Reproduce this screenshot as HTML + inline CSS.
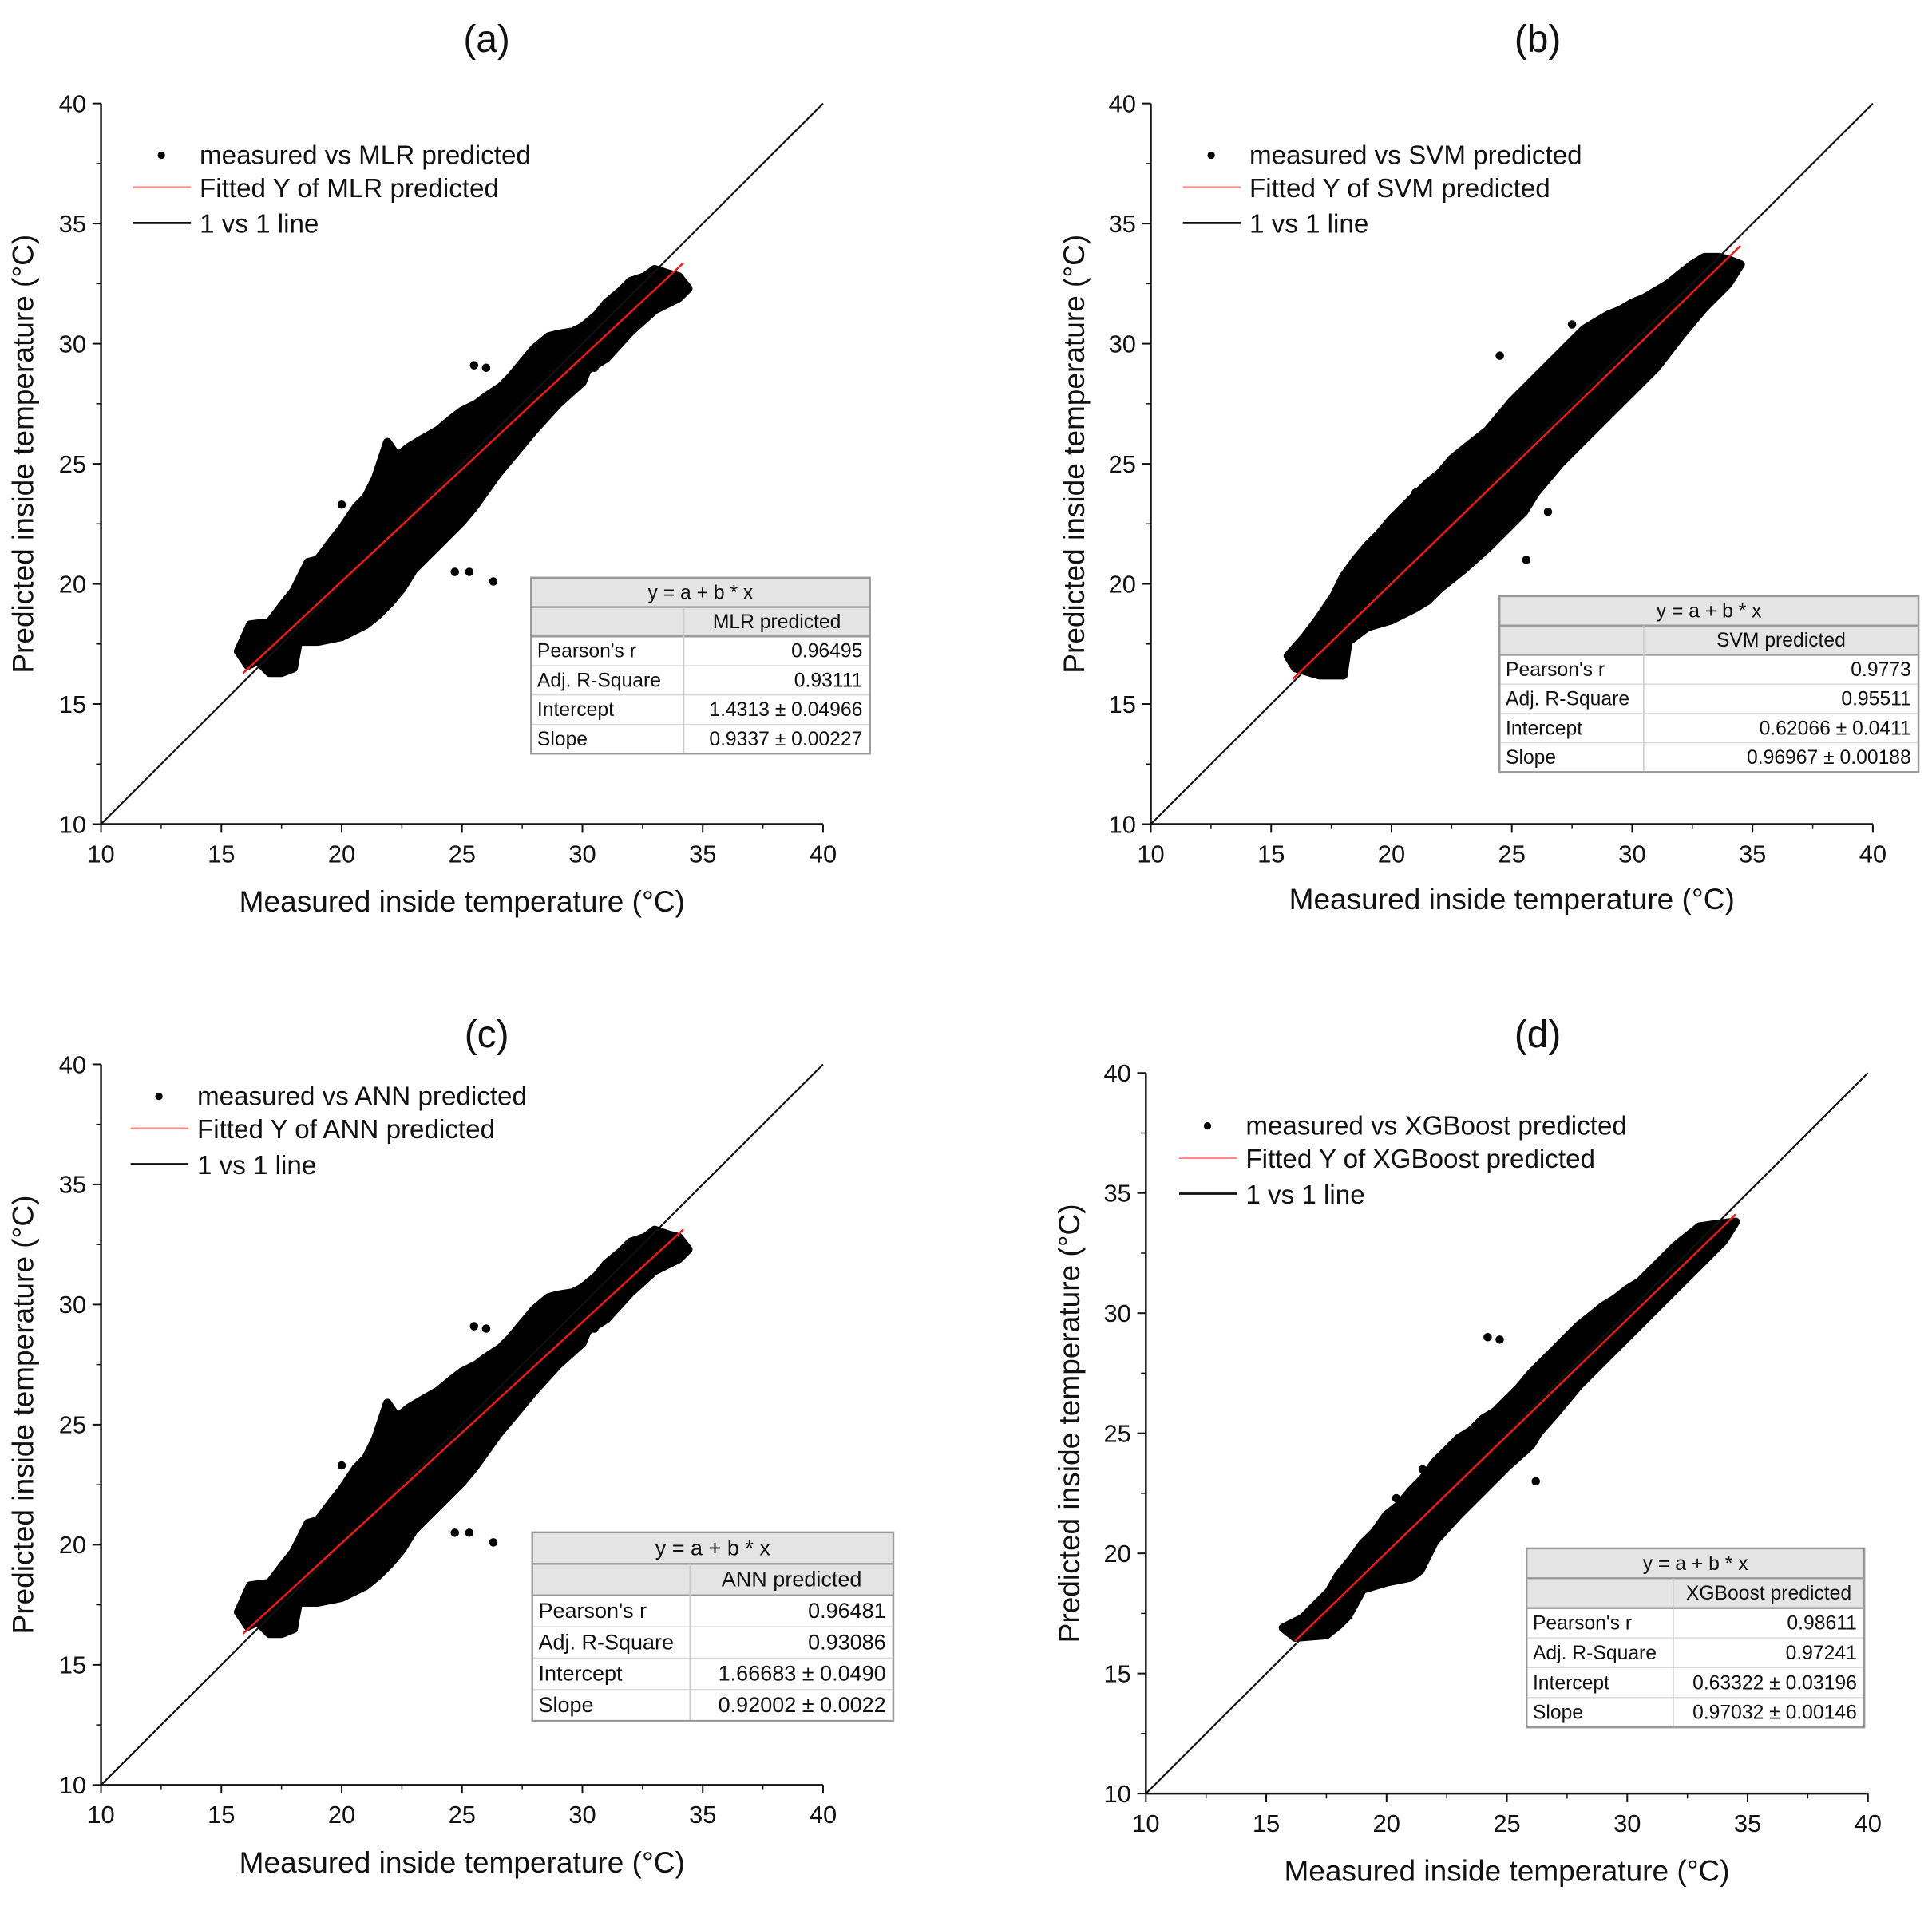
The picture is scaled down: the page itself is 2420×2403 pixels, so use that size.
<!DOCTYPE html>
<html><head><meta charset="utf-8"><style>
html,body{margin:0;padding:0;background:#fff;}
svg{display:block;}
text{font-family:"Liberation Sans",Arial,sans-serif;fill:#111;}
</style></head><body>
<svg id="fig" width="2420" height="2403" viewBox="0 0 1568 1557" preserveAspectRatio="none" xmlns="http://www.w3.org/2000/svg"></svg>
<script>
// ---- data ----
const panelLabels = ["(a)","(b)","(c)","(d)"];
const modelNames = ["MLR","SVM","ANN","XGBoost"];
const tickValues = [10,15,20,25,30,35,40];
const intercepts = [1.4313,0.62066,1.66683,0.63322];
const slopes = [0.9337,0.96967,0.92002,0.97032];
const pearsonLabels = ["0.96495","0.9773","0.96481","0.98611"];
const adjR2Labels = ["0.93111","0.95511","0.93086","0.97241"];
const interceptLabels = ["1.4313 ± 0.04966","0.62066 ± 0.0411","1.66683 ± 0.0490","0.63322 ± 0.03196"];
const slopeLabels = ["0.9337 ± 0.00227","0.96967 ± 0.00188","0.92002 ± 0.0022","0.97032 ± 0.00146"];
const fitRangeX = [[15.9,34.2],[15.9,34.5],[15.9,34.2],[16.2,34.5]];
// cloud envelopes (measured, predicted)
const cloudA = [[15.7,17.2],[16.2,18.3],[17,18.4],[17.6,19.2],[18,19.7],[18.6,20.9],[19,21],[19.6,21.8],[20,22.3],[20.6,23.2],[21,23.6],[21.4,24.4],[21.9,25.9],[22.3,25.3],[22.8,25.7],[23.3,26],[24,26.4],[24.6,26.9],[25,27.2],[25.6,27.5],[26,27.8],[26.6,28.2],[27,28.6],[27.5,29.2],[28,29.8],[28.6,30.3],[29,30.4],[29.6,30.5],[30,30.7],[30.6,31.2],[31,31.7],[31.6,32.2],[32,32.6],[32.6,32.8],[33,33.1],[33.6,32.9],[34,32.8],[34.4,32.3],[34,31.9],[33,31.4],[32,30.5],[31,29.4],[30.2,28.9],[30,28.4],[29,27.5],[28,26.4],[27,25.2],[26.5,24.6],[26,23.9],[25.5,23.2],[25,22.6],[24,21.6],[23,20.6],[22.5,19.8],[22,19.2],[21.5,18.7],[21,18.3],[20,17.8],[19,17.6],[18.2,17.6],[18,16.5],[17.5,16.3],[17,16.3],[16.5,16.8],[16.1,16.6]];
const cloudB = [[15.7,17],[16.4,17.8],[17,18.6],[17.6,19.5],[18,20.3],[18.5,21],[19,21.6],[19.5,22.1],[20,22.7],[20.5,23.2],[21,23.7],[21.5,24.2],[22,24.6],[22.5,25.2],[23,25.6],[23.5,26],[24,26.4],[24.5,27],[25,27.6],[25.5,28.1],[26,28.6],[26.5,29.1],[27,29.6],[27.5,30.1],[28,30.6],[28.5,30.9],[29,31.2],[29.5,31.4],[30,31.7],[30.5,31.9],[31,32.2],[31.5,32.5],[32,32.9],[32.5,33.3],[33,33.6],[33.6,33.6],[34,33.5],[34.5,33.3],[34,32.5],[33,31.5],[32,30.3],[31,29],[30,28],[29,27],[28,26],[27,25],[26.5,24.4],[26,23.8],[25.5,23],[25,22.5],[24,21.5],[23,20.6],[22,19.8],[21.5,19.3],[21,19],[20,18.5],[19,18.2],[18.2,17.6],[18,16.2],[17,16.2],[16,16.5]];
const cloudD = [[15.7,16.9],[16.5,17.3],[17,17.8],[17.6,18.4],[18,19.1],[18.5,19.7],[19,20.4],[19.5,20.9],[20,21.6],[20.5,22],[21,22.6],[21.5,23.1],[22,23.8],[22.5,24.3],[23,24.8],[23.5,25.1],[24,25.6],[24.5,25.9],[25,26.4],[25.5,26.9],[26,27.5],[26.5,28],[27,28.5],[27.5,29],[28,29.5],[28.5,29.9],[29,30.3],[29.5,30.6],[30,31],[30.5,31.3],[31,31.8],[31.5,32.3],[32,32.8],[32.5,33.2],[33,33.6],[33.7,33.7],[34.5,33.8],[34,33],[33,32],[32,31],[31,30],[30,29],[29,28],[28,27],[27,25.8],[26.3,25],[26,24.5],[25,23.6],[24,22.6],[23,21.6],[22,20.5],[21.4,19.3],[21,19],[20,18.8],[19,18.5],[18.4,17.4],[18,17],[17.5,16.6],[16.2,16.5]];
const outliersA = [[26.3,20.1],[25.3,20.5],[24.7,20.5],[25.5,29.1],[26,29],[21.9,25.9],[20,23.3],[30.5,29]];
const outliersB = [[25.6,21],[26.5,23],[24.5,29.5],[27.5,30.8],[31.5,29.8],[21,23.8]];
const outliersD = [[24.2,29],[24.7,28.9],[26.2,23],[21.5,23.5],[20.4,22.3]];
// ---- layout ----
const panels = [
 {x0:82,x1:668,yTop:84,yBot:669,title:[395,42],cloud:cloudA,out:outliersA,leg:[108,126],tb:[431,469,706,555],yt:27,xt:[375,740]},
 {x0:934,x1:1520,yTop:84,yBot:669,title:[1248,42],cloud:cloudB,out:outliersB,leg:[960,126],tb:[1217,484,1557,1334],yt:880,xt:[1227,738]},
 {x0:82,x1:668,yTop:864,yBot:1449,title:[395,850],cloud:cloudA,out:outliersA,leg:[106,890],tb:[432,1244,725,560],yt:27,xt:[375,1520]},
 {x0:930,x1:1516,yTop:871,yBot:1456,title:[1248,850],cloud:cloudD,out:outliersD,leg:[957,914],tb:[1239,1257,1513,1358],yt:876,xt:[1223,1527]}
];
const NS="http://www.w3.org/2000/svg";
const svg=document.getElementById('fig');
function mk(tag,attrs,parent,txt){const e=document.createElementNS(NS,tag);for(const k in attrs)e.setAttribute(k,attrs[k]);if(txt!==undefined)e.textContent=txt;(parent||svg).appendChild(e);return e;}
panels.forEach((p,i)=>{
 const sx=v=>p.x0+(v-10)/30*(p.x1-p.x0);
 const sy=v=>p.yBot-(v-10)/30*(p.yBot-p.yTop);
 const g=mk('g',{});
 
 
 const t=mk('text',{x:p.title[0],y:p.title[1],'font-size':31,'text-anchor':'middle'},g,panelLabels[i]);
 
 
 const pts=p.cloud.map(d=>sx(d[0]).toFixed(1)+','+sy(d[1]).toFixed(1)).join(' ');
 const cl=mk('polygon',{points:pts,fill:'#000',stroke:'#000','stroke-width':7,'stroke-linejoin':'round'},g);
 
 
 p.out.forEach(d=>{const c=mk('circle',{cx:sx(d[0]),cy:sy(d[1]),r:3.4,fill:'#000'},g);
  
  });
 const l1=mk('line',{x1:sx(10),y1:sy(10),x2:sx(40),y2:sy(40),stroke:'#111','stroke-width':1.4},g);
 
 
 const fx=fitRangeX[i];
 const fl=mk('line',{x1:sx(fx[0]),y1:sy(intercepts[i]+slopes[i]*fx[0]),x2:sx(fx[1]),y2:sy(intercepts[i]+slopes[i]*fx[1]),stroke:'#f01818','stroke-width':1.6},g);
 
 
 const ax=mk('path',{d:`M${p.x0},${p.yTop} V${p.yBot} H${p.x1}`,fill:'none',stroke:'#111','stroke-width':1.6},g);
 
 
 tickValues.forEach((v,k)=>{
  mk('line',{x1:p.x0-7,y1:sy(v),x2:p.x0,y2:sy(v),stroke:'#111','stroke-width':1.3},g);
  mk('line',{x1:sx(v),y1:p.yBot,x2:sx(v),y2:p.yBot+7,stroke:'#111','stroke-width':1.3},g);
  if(k<tickValues.length-1){const m=v+2.5;
   mk('line',{x1:p.x0-4,y1:sy(m),x2:p.x0,y2:sy(m),stroke:'#111','stroke-width':1},g);
   mk('line',{x1:sx(m),y1:p.yBot,x2:sx(m),y2:p.yBot+4,stroke:'#111','stroke-width':1},g);}
  const yl=mk('text',{x:p.x0-12,y:sy(v)+7,'font-size':20,'text-anchor':'end'},g,String(v));
  
  
  const xl=mk('text',{x:sx(v),y:p.yBot+31,'font-size':20,'text-anchor':'middle'},g,String(v));
  
  
 });
 const xt=mk('text',{x:p.xt[0],y:p.xt[1],'font-size':24,'text-anchor':'middle'},g,'Measured inside temperature (°C)');
 
 
 const cy=(p.yTop+p.yBot)/2;
 const yt=mk('text',{x:p.yt+8,y:cy,'font-size':24,'text-anchor':'middle',transform:`rotate(-90 ${p.yt} ${cy})`},g,'Predicted inside temperature (°C)');
 
 
 const lx=p.leg[0],ly=p.leg[1];
 const lg=mk('g',{},g);
 
 
 mk('circle',{cx:lx+23,cy:ly,r:3,fill:'#000'},lg);
 mk('text',{x:lx+54,y:ly+7,'font-size':21.5},lg,'measured vs '+modelNames[i]+' predicted');
 mk('line',{x1:lx,y1:ly+26,x2:lx+47,y2:ly+26,stroke:'#ff8a8a','stroke-width':1.6},lg);
 mk('text',{x:lx+54,y:ly+34,'font-size':21.5},lg,'Fitted Y of '+modelNames[i]+' predicted');
 mk('line',{x1:lx,y1:ly+55,x2:lx+47,y2:ly+55,stroke:'#111','stroke-width':1.8},lg);
 mk('text',{x:lx+54,y:ly+63,'font-size':21.5},lg,'1 vs 1 line');
 const [tx0,ty0,tx1,tsplit]=p.tb;
 const rh=(i===0||i===1)?23.8:(i===2?25.5:24.2);
 const tg=mk('g',{},g);
 
 
 mk('rect',{x:tx0,y:ty0,width:tx1-tx0,height:rh*6,fill:'#fff',stroke:'#999','stroke-width':1.5},tg);
 mk('rect',{x:tx0,y:ty0,width:tx1-tx0,height:rh*2,fill:'#e4e4e4',stroke:'none'},tg);
 for(let r=1;r<6;r++)mk('line',{x1:tx0,y1:ty0+rh*r,x2:tx1,y2:ty0+rh*r,stroke:r<3?'#999':'#ddd','stroke-width':r<3?1.5:1},tg);
 mk('line',{x1:tsplit,y1:ty0+rh,x2:tsplit,y2:ty0+rh*6,stroke:'#ccc','stroke-width':1},tg);
 mk('rect',{x:tx0,y:ty0,width:tx1-tx0,height:rh*6,fill:'none',stroke:'#999','stroke-width':1.5},tg);
 const fs=i===2?17.5:16;
 mk('text',{x:(tx0+tx1)/2,y:ty0+rh*0.72,'font-size':fs,'text-anchor':'middle'},tg,'y = a + b * x');
 mk('text',{x:(tsplit+tx1)/2,y:ty0+rh*1.72,'font-size':fs,'text-anchor':'middle'},tg,modelNames[i]+' predicted');
 const rl=["Pearson's r","Adj. R-Square","Intercept","Slope"];
 const rv=[pearsonLabels[i],adjR2Labels[i],interceptLabels[i],slopeLabels[i]];
 rl.forEach((s,k)=>{
  mk('text',{x:tx0+5,y:ty0+rh*(2.72+k),'font-size':fs},tg,s);
  mk('text',{x:tx1-6,y:ty0+rh*(2.72+k),'font-size':fs,'text-anchor':'end'},tg,rv[k]);
 });
});
</script>
</body></html>
